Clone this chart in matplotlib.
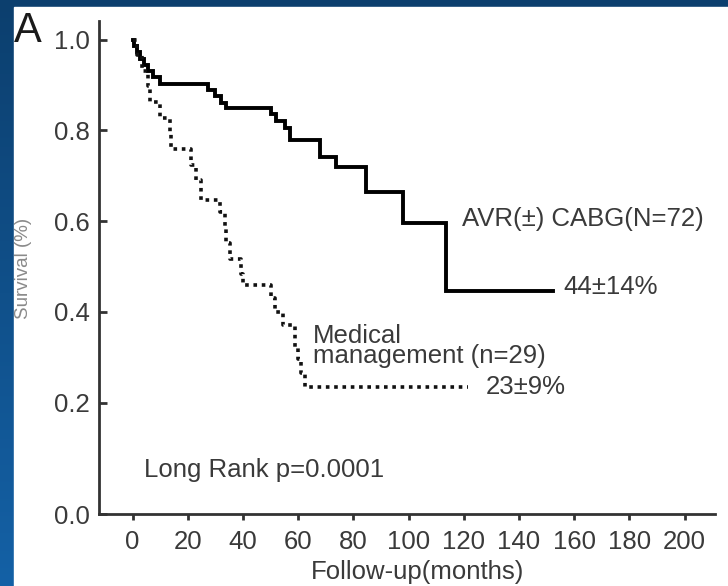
import numpy as np
import matplotlib
matplotlib.use('Agg')
import matplotlib.pyplot as plt
from matplotlib.patches import Rectangle

plt.rcParams['font.family'] = ['Liberation Sans', 'DejaVu Sans']

# Kaplan-Meier steps (months, survival after the step)
avr_t = [0, 0.5, 1.5, 2.5, 4, 5.5, 7.5, 9.8, 27.3, 29.7, 32.1, 33.9, 50.3, 52.1,
         55.1, 56.9, 67.8, 73.8, 84.7, 97.9, 113.4, 152.3]
avr_s = [1.0, 0.986, 0.972, 0.958, 0.944, 0.93, 0.917, 0.903, 0.889, 0.875, 0.861,
         0.849, 0.835, 0.821, 0.806, 0.779, 0.742, 0.72, 0.665, 0.596, 0.446, 0.446]

med_t = [0, 1.5, 3.5, 5.5, 6.2, 10, 13.4, 14, 21, 23, 24.9, 31.5, 33.3, 34, 35.1,
         39.4, 40, 50.3, 51.6, 54.5, 58.7, 60, 61.1, 62.3, 121.4]
med_s = [1.0, 0.966, 0.931, 0.897, 0.862, 0.828, 0.793, 0.759, 0.724, 0.69, 0.646,
         0.621, 0.586, 0.552, 0.517, 0.483, 0.46, 0.43, 0.40, 0.37, 0.32, 0.295,
         0.265, 0.235, 0.235]

xticks = [0, 20, 40, 60, 80, 100, 120, 140, 160, 180, 200]
ytick_labels = ['0.0', '0.2', '0.4', '0.6', '0.8', '1.0']

W, H = 728, 586
fig = plt.figure(figsize=(W / 100, H / 100), dpi=100)

# slide background: blue gradient with white panel
bg = fig.add_axes([0, 0, 1, 1], zorder=-10)
grad = np.linspace(0, 1, 256).reshape(-1, 1)
cmap = matplotlib.colors.LinearSegmentedColormap.from_list('slide', ['#0c3f6e', '#1461a6'])
bg.imshow(grad, cmap=cmap, extent=[0, 1, 0, 1], aspect='auto')
bg.add_patch(Rectangle((14 / W, 0), 1, 1 - 7 / H, color='white'))
bg.set_xlim(0, 1)
bg.set_ylim(0, 1)
bg.axis('off')

ax = fig.add_axes([99.5 / W, 1 - 514 / H, (715 - 99.5) / W, (514 - 21) / H])
ax.set_facecolor('none')

ax.step(avr_t, avr_s, where='post', color='black', lw=2.8, solid_joinstyle='miter')
ax.step(med_t, med_s, where='post', color='#111111', lw=2.6,
        linestyle=(0, (1, 1.3)), dash_capstyle='butt')

# the original figure's x axis sits a little below where the 0.2 spacing would put it
y0 = -0.0457
ax.set_xlim(-12, 211)
ax.set_ylim(y0, 1.041)
ax.set_xticks(xticks)
ax.set_yticks([y0, 0.2, 0.4, 0.6, 0.8, 1.0])
ax.set_yticklabels(ytick_labels)

for s in ['top', 'right']:
    ax.spines[s].set_visible(False)
for s in ['left', 'bottom']:
    ax.spines[s].set_color('#333333')
    ax.spines[s].set_linewidth(2)

txt = '#3a3a3a'
fs = 18.5
ax.tick_params(axis='y', direction='in', length=6, width=2, color='#333333',
               labelsize=fs, labelcolor=txt, pad=7)
ax.tick_params(axis='x', direction='out', length=4, width=2, color='#333333',
               labelsize=fs, labelcolor=txt, pad=7.5)

ax.set_xlabel('Follow-up(months)', fontsize=fs, color=txt)
ax.xaxis.set_label_coords(0.516, -0.094)
fig.text(24 / W, 1 - 268 / H, 'Survival (%)', rotation=90, fontsize=13.5,
         color='#8a8a8a', ha='center', va='center')

ax.text(119.5, 0.604, 'AVR(±) CABG(N=72)', fontsize=fs, color=txt, va='center')
ax.text(156, 0.455, '44±14%', fontsize=fs, color=txt, va='center')
ax.text(65.3, 0.325, 'Medical\nmanagement (n=29)', fontsize=fs, color=txt,
        va='center', linespacing=0.8)
ax.text(128, 0.235, '23±9%', fontsize=fs, color=txt, va='center')
ax.text(4.3, 0.051, 'Long Rank p=0.0001', fontsize=fs, color=txt, va='center')

fig.text(14 / W, 1 - 11 / H, 'A', fontsize=30, color='#1a1a1a', ha='left', va='top')

fig.savefig('out.png', dpi=100)
